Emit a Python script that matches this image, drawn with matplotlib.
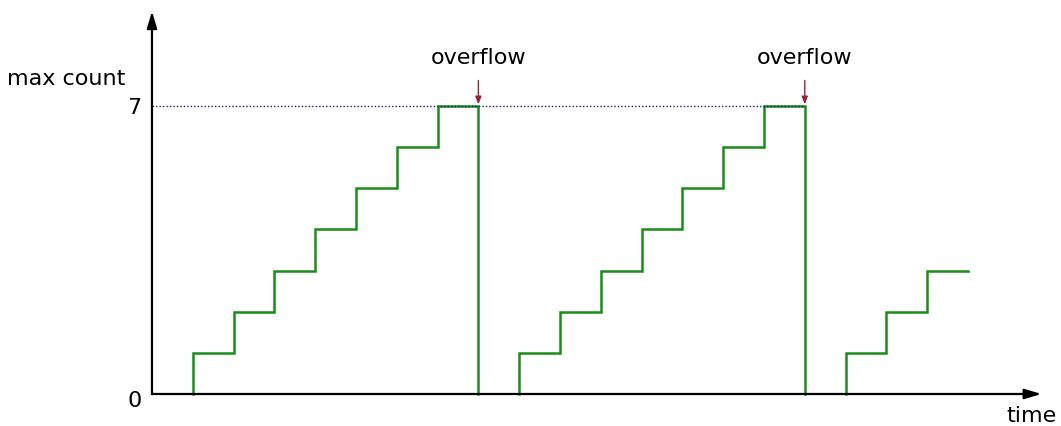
import numpy as np
import matplotlib.pyplot as plt

# counter value over time (step changes at integer ticks)
ramp1_t = [1, 2, 3, 4, 5, 6, 7, 8]
ramp1_v = [1, 2, 3, 4, 5, 6, 7, 7]
ramp2_t = [9, 10, 11, 12, 13, 14, 15, 16]
ramp2_v = [1, 2, 3, 4, 5, 6, 7, 7]
ramp3_t = [17, 18, 19, 20]
ramp3_v = [1, 2, 3, 3]
overflow_t = [8, 16]
max_count = 7

green = '#1a8c1a'

fig = plt.figure(figsize=(10.61, 4.27), dpi=100)
ax = fig.add_axes([0, 0, 1, 1])
ax.set_xlim(-3.725, 22.28)
ax.set_ylim(-0.778, 9.60)
ax.axis('off')

# step polylines: rise at each t, hold until next t, then drop on overflow
def steps(ts, vs, drop):
    xs, ys = [ts[0]], [0]
    for i in range(len(ts) - 1):
        xs += [ts[i], ts[i + 1]]
        ys += [vs[i], vs[i]]
    if drop:
        xs.append(ts[-1])
        ys.append(0)
    ax.plot(xs, ys, color=green, lw=1.8, solid_joinstyle='miter')

steps(ramp1_t, ramp1_v, True)
steps(ramp2_t, ramp2_v, True)
steps(ramp3_t, ramp3_v, False)

# dotted max level
ax.plot([0, overflow_t[-1]], [max_count, max_count], color='#1a1a70',
        lw=1.0, ls=(0, (1, 1.5)))

# axes with arrows
ax.annotate('', xy=(21.8, 0), xytext=(0, 0),
            arrowprops=dict(arrowstyle='-|>,head_length=1.0,head_width=0.3',
                            color='black', lw=1.6, shrinkA=0, shrinkB=0))
ax.annotate('', xy=(0, 9.3), xytext=(0, 0),
            arrowprops=dict(arrowstyle='-|>,head_length=1.0,head_width=0.3',
                            color='black', lw=1.6, shrinkA=0, shrinkB=0))

# overflow markers
for t in overflow_t:
    ax.annotate('', xy=(t, 7.04), xytext=(t, 7.62),
                arrowprops=dict(arrowstyle='-|>,head_length=0.45,head_width=0.18',
                                color='#9a2038', lw=1.0, shrinkA=0, shrinkB=0))
    ax.text(t, 8.18, 'overflow', ha='center', va='center', fontsize=16)

ax.text(-2.1, 7.68, 'max count', ha='center', va='center', fontsize=16)
ax.text(-0.26, 6.98, '7', ha='right', va='center', fontsize=16)
ax.text(-0.26, -0.15, '0', ha='right', va='center', fontsize=16)
ax.text(21.55, -0.5, 'time', ha='center', va='center', fontsize=16)

fig.savefig('out.png', dpi=100)
